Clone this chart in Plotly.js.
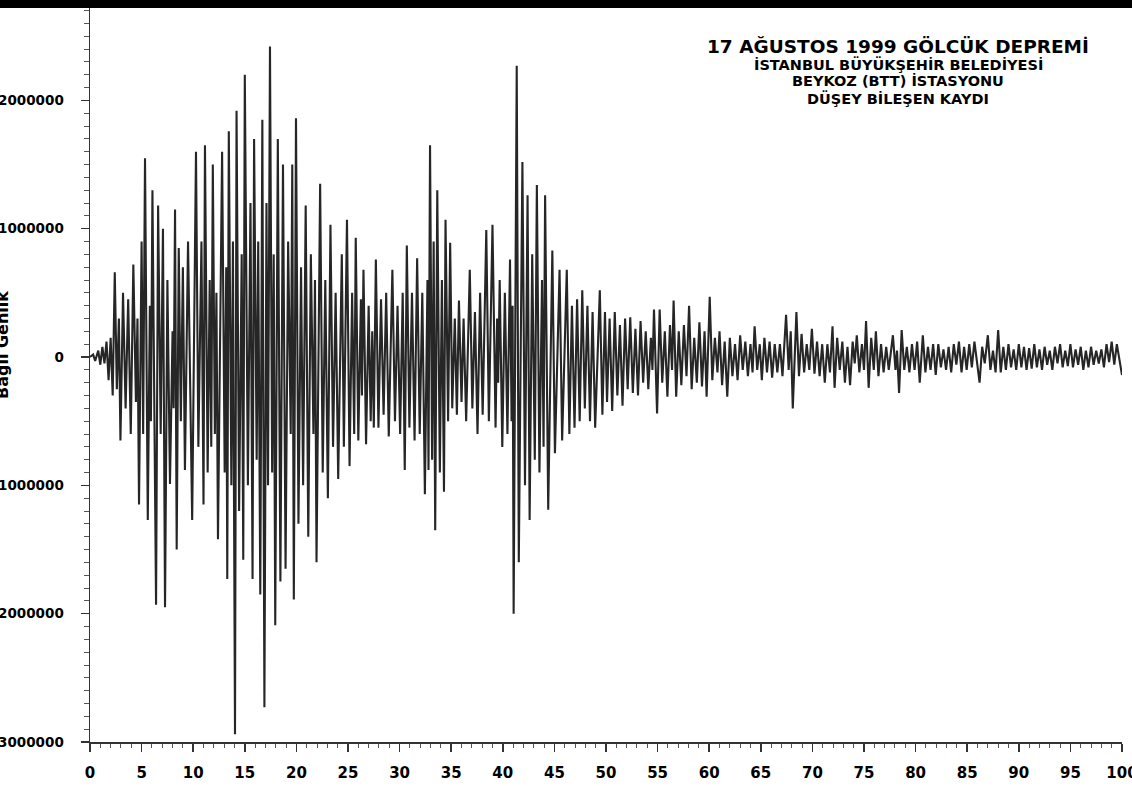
<!DOCTYPE html>
<html>
<head>
<meta charset="utf-8">
<script src="https://cdn.plot.ly/plotly-3.0.1.min.js"></script>
<style>
  html, body { margin: 0; padding: 0; background: #fff; overflow: hidden; width: 1132px; height: 786px; }
  #chart { position: absolute; left: -14px; top: 0; width: 1146px; height: 786px; }
</style>
</head>
<body>
<div id="chart"></div>
<script>
// Time (s)
const time = [
  0.0, 0.3, 0.5, 0.8, 1.0, 1.2, 1.4, 1.6, 1.8, 2.0,
  2.2, 2.4, 2.6, 2.8, 2.95, 3.2, 3.45, 3.7, 3.95, 4.2,
  4.45, 4.6, 4.75, 5.0, 5.15, 5.33, 5.6, 5.8, 5.9, 6.05,
  6.4, 6.6, 6.85, 7.07, 7.27, 7.5, 7.75, 8.0, 8.1, 8.24,
  8.4, 8.6, 8.8, 9.0, 9.2, 9.5, 9.9, 10.27, 10.5, 10.8,
  11.0, 11.14, 11.4, 11.6, 11.75, 11.9, 12.1, 12.25, 12.4, 12.8,
  13.05, 13.2, 13.3, 13.45, 13.7, 13.85, 14.05, 14.2, 14.45, 14.7,
  14.85, 15.0, 15.3, 15.55, 15.75, 15.9, 16.15, 16.3, 16.5, 16.7,
  16.9, 17.1, 17.25, 17.44, 17.65, 17.8, 17.95, 18.2, 18.45, 18.7,
  18.95, 19.2, 19.45, 19.6, 19.75, 19.96, 20.2, 20.45, 20.65, 20.9,
  21.15, 21.4, 21.65, 21.8, 21.95, 22.3, 22.55, 22.8, 23.05, 23.3,
  23.55, 23.8, 24.05, 24.4, 24.6, 24.9, 25.15, 25.4, 25.6, 25.75,
  26.0, 26.25, 26.35, 26.5, 26.75, 27.0, 27.2, 27.35, 27.5, 27.7,
  27.95, 28.2, 28.45, 28.7, 28.95, 29.3, 29.55, 29.8, 30.05, 30.3,
  30.5, 30.7, 30.95, 31.2, 31.45, 31.7, 31.95, 32.2, 32.45, 32.7,
  32.8, 32.95, 33.15, 33.3, 33.45, 33.65, 33.9, 34.1, 34.3, 34.45,
  34.7, 34.9, 35.1, 35.35, 35.55, 35.75, 36.0, 36.2, 36.45, 36.8,
  37.05, 37.3, 37.55, 37.8, 38.05, 38.4, 38.65, 39.0, 39.3, 39.45,
  39.55, 39.7, 39.95, 40.2, 40.45, 40.7, 40.85, 40.95, 41.05, 41.35,
  41.55, 41.9, 42.15, 42.4, 42.6, 42.85, 43.1, 43.3, 43.55, 43.8,
  43.95, 44.1, 44.4, 44.8, 45.05, 45.5, 45.75, 46.2, 46.45, 46.7,
  46.95, 47.2, 47.45, 47.7, 47.95, 48.2, 48.45, 48.7, 48.95, 49.4,
  49.65, 49.9, 50.1, 50.35, 50.6, 50.85, 51.1, 51.35, 51.6, 51.85,
  52.1, 52.35, 52.6, 52.85, 53.1, 53.35, 53.6, 53.85, 54.1, 54.35,
  54.5, 54.65, 54.95, 55.2, 55.45, 55.7, 55.95, 56.2, 56.4, 56.55,
  56.8, 57.05, 57.3, 57.55, 57.8, 58.05, 58.3, 58.55, 58.8, 59.05,
  59.3, 59.55, 59.75, 60.05, 60.3, 60.55, 60.8, 61.0, 61.25, 61.5,
  61.75, 62.0, 62.25, 62.5, 62.75, 63.0, 63.25, 63.5, 63.75, 64.0,
  64.2, 64.4, 64.65, 64.9, 65.1, 65.35, 65.6, 65.85, 66.1, 66.35,
  66.6, 66.85, 67.1, 67.45, 67.7, 67.9, 68.1, 68.45, 68.7, 68.95,
  69.2, 69.45, 69.7, 69.95, 70.2, 70.45, 70.7, 70.95, 71.2, 71.45,
  71.7, 71.95, 72.15, 72.4, 72.65, 72.9, 73.15, 73.4, 73.65, 73.9,
  74.1, 74.3, 74.55, 74.8, 75.0, 75.2, 75.45, 75.7, 75.95, 76.15,
  76.4, 76.65, 76.9, 77.15, 77.4, 77.8, 78.05, 78.2, 78.4, 78.65,
  78.9, 79.15, 79.4, 79.65, 79.9, 80.15, 80.4, 80.7, 80.95, 81.2,
  81.45, 81.7, 81.95, 82.2, 82.45, 82.7, 82.95, 83.2, 83.45, 83.7,
  83.95, 84.2, 84.45, 84.7, 84.95, 85.2, 85.45, 85.7, 86.2, 86.45,
  86.7, 87.0, 87.25, 87.5, 87.75, 88.0, 88.25, 88.5, 88.75, 89.0,
  89.25, 89.5, 89.75, 90.0, 90.25, 90.5, 90.75, 91.0, 91.25, 91.5,
  91.75, 92.0, 92.25, 92.5, 92.75, 93.0, 93.25, 93.5, 93.75, 94.0,
  94.25, 94.5, 94.75, 95.0, 95.25, 95.5, 95.75, 96.0, 96.25, 96.5,
  96.75, 97.0, 97.25, 97.5, 97.75, 98.0, 98.25, 98.5, 98.75, 99.0,
  99.25, 99.5, 99.75, 100.0
];

// Relative amplitude (counts)
const amplitude = [
  0, 0.02e6, -0.03e6, 0.05e6, -0.06e6, 0.08e6, -0.05e6, 0.12e6, -0.18e6, 0.15e6,
  -0.3e6, 0.66e6, -0.25e6, 0.3e6, -0.65e6, 0.5e6, -0.4e6, 0.45e6, -0.6e6, 0.72e6,
  -0.35e6, 0.3e6, -1.15e6, 0.9e6, -0.6e6, 1.55e6, -1.27e6, 0.4e6, -0.5e6, 1.3e6,
  -1.93e6, 1.18e6, -0.6e6, 1.0e6, -1.95e6, 0.6e6, -0.99e6, 0.2e6, -0.4e6, 1.15e6,
  -1.5e6, 0.85e6, -0.5e6, 0.7e6, -0.88e6, 0.9e6, -1.27e6, 1.6e6, -0.7e6, 0.9e6,
  -1.15e6, 1.65e6, -0.9e6, 0.6e6, -0.7e6, 1.5e6, -0.6e6, 0.5e6, -1.42e6, 1.6e6,
  -0.9e6, 0.7e6, -1.73e6, 1.76e6, -1.0e6, 0.9e6, -2.94e6, 1.92e6, -1.2e6, 0.8e6,
  -1.58e6, 2.2e6, -1.0e6, 1.2e6, -1.73e6, 1.7e6, -0.8e6, 0.9e6, -1.85e6, 1.85e6,
  -2.73e6, 1.2e6, -1.0e6, 2.42e6, -0.9e6, 0.8e6, -2.09e6, 1.7e6, -1.75e6, 1.5e6,
  -1.65e6, 0.9e6, -0.6e6, 1.5e6, -1.89e6, 1.86e6, -1.3e6, 0.7e6, -1.0e6, 1.18e6,
  -1.4e6, 0.8e6, -0.6e6, 0.6e6, -1.6e6, 1.35e6, -0.9e6, 0.6e6, -1.1e6, 1.03e6,
  -0.7e6, 0.5e6, -0.95e6, 0.8e6, -0.7e6, 1.07e6, -0.85e6, 0.5e6, -0.6e6, 0.93e6,
  -0.65e6, 0.45e6, -0.3e6, 0.68e6, -0.68e6, 0.4e6, -0.5e6, 0.2e6, -0.55e6, 0.76e6,
  -0.55e6, 0.45e6, -0.45e6, 0.5e6, -0.62e6, 0.68e6, -0.5e6, 0.4e6, -0.6e6, 0.5e6,
  -0.88e6, 0.87e6, -0.55e6, 0.5e6, -0.65e6, 0.77e6, -0.6e6, 0.5e6, -1.07e6, 0.6e6,
  -0.88e6, 1.65e6, -0.8e6, 0.9e6, -1.35e6, 1.3e6, -0.9e6, 0.6e6, -1.05e6, 1.07e6,
  -0.5e6, 0.89e6, -0.4e6, 0.3e6, -0.45e6, 0.44e6, -0.35e6, 0.3e6, -0.5e6, 0.68e6,
  -0.4e6, 0.35e6, -0.6e6, 0.5e6, -0.45e6, 0.99e6, -0.5e6, 1.03e6, -0.55e6, 0.3e6,
  -0.2e6, 0.6e6, -0.7e6, 0.5e6, -0.6e6, 0.76e6, -0.5e6, 0.4e6, -2.0e6, 2.27e6,
  -1.6e6, 1.52e6, -1.0e6, 1.26e6, -1.27e6, 0.8e6, -0.8e6, 1.34e6, -0.9e6, 0.6e6,
  -0.7e6, 1.26e6, -1.19e6, 0.83e6, -0.75e6, 0.68e6, -0.65e6, 0.68e6, -0.6e6, 0.4e6,
  -0.55e6, 0.45e6, -0.5e6, 0.52e6, -0.4e6, 0.4e6, -0.5e6, 0.35e6, -0.55e6, 0.52e6,
  -0.45e6, 0.35e6, -0.35e6, 0.3e6, -0.42e6, 0.35e6, -0.3e6, 0.25e6, -0.38e6, 0.3e6,
  -0.25e6, 0.31e6, -0.28e6, 0.22e6, -0.3e6, 0.28e6, -0.2e6, 0.2e6, -0.25e6, 0.15e6,
  -0.1e6, 0.37e6, -0.44e6, 0.37e6, -0.2e6, 0.2e6, -0.31e6, 0.25e6, -0.1e6, 0.44e6,
  -0.31e6, 0.2e6, -0.22e6, 0.25e6, -0.15e6, 0.4e6, -0.25e6, 0.15e6, -0.2e6, 0.27e6,
  -0.23e6, 0.2e6, -0.31e6, 0.47e6, -0.18e6, 0.15e6, -0.12e6, 0.2e6, -0.22e6, 0.12e6,
  -0.31e6, 0.15e6, -0.15e6, 0.1e6, -0.18e6, 0.17e6, -0.1e6, 0.12e6, -0.15e6, 0.1e6,
  -0.12e6, 0.24e6, -0.1e6, 0.1e6, -0.18e6, 0.15e6, -0.12e6, 0.12e6, -0.16e6, 0.1e6,
  -0.12e6, 0.1e6, -0.15e6, 0.33e6, -0.1e6, 0.2e6, -0.4e6, 0.35e6, -0.15e6, 0.18e6,
  -0.12e6, 0.1e6, -0.1e6, 0.22e6, -0.13e6, 0.12e6, -0.15e6, 0.1e6, -0.2e6, 0.1e6,
  -0.12e6, 0.24e6, -0.24e6, 0.15e6, -0.1e6, 0.12e6, -0.2e6, 0.08e6, -0.22e6, 0.12e6,
  -0.05e6, 0.17e6, -0.12e6, 0.1e6, -0.1e6, 0.28e6, -0.24e6, 0.15e6, -0.1e6, 0.2e6,
  -0.15e6, 0.1e6, -0.12e6, 0.08e6, -0.1e6, 0.17e6, -0.1e6, 0.05e6, -0.28e6, 0.21e6,
  -0.1e6, 0.08e6, -0.12e6, 0.1e6, -0.1e6, 0.12e6, -0.2e6, 0.17e6, -0.12e6, 0.08e6,
  -0.1e6, 0.1e6, -0.14e6, 0.1e6, -0.08e6, 0.06e6, -0.1e6, 0.08e6, -0.12e6, 0.1e6,
  -0.06e6, 0.12e6, -0.12e6, 0.08e6, -0.1e6, 0.1e6, -0.08e6, 0.12e6, -0.2e6, 0.08e6,
  -0.05e6, 0.17e6, -0.1e6, 0.05e6, -0.12e6, 0.21e6, -0.12e6, 0.08e6, -0.1e6, 0.1e6,
  -0.08e6, 0.06e6, -0.1e6, 0.1e6, -0.08e6, 0.08e6, -0.1e6, 0.07e6, -0.09e6, 0.1e6,
  -0.08e6, 0.06e6, -0.1e6, 0.08e6, -0.06e6, 0.05e6, -0.1e6, 0.08e6, -0.05e6, 0.1e6,
  -0.08e6, 0.05e6, -0.07e6, 0.1e6, -0.08e6, 0.06e6, -0.06e6, 0.08e6, -0.1e6, 0.05e6,
  -0.08e6, 0.08e6, -0.06e6, 0.05e6, -0.05e6, 0.06e6, -0.08e6, 0.1e6, -0.04e6, 0.12e6,
  -0.06e6, 0.1e6, -0.02e6, -0.14e6
];

const yTickValues = [-3000000, -2000000, -1000000, 0, 1000000, 2000000];
const yTickLabels = ['-3000000', '-2000000', '-1000000', '0', '1000000', '2000000'];
const xTickValues = [0, 5, 10, 15, 20, 25, 30, 35, 40, 45, 50, 55, 60, 65, 70, 75, 80, 85, 90, 95, 100];

const titleLines = [
  '17 AĞUSTOS 1999 GÖLCÜK DEPREMİ',
  'İSTANBUL BÜYÜKŞEHİR BELEDİYESİ',
  'BEYKOZ (BTT) İSTASYONU',
  'DÜŞEY BİLEŞEN KAYDI'
];
const yTitle = 'Bağıl Genlik';

const FONT = 'DejaVu Sans, Liberation Sans, Arial, sans-serif';
const W = 1146, H = 786;
const mL = 104, mR = 10, mT = 8, mB = 44;
const plotW = W - mL - mR, plotH = H - mT - mB;

const trace = {
  type: 'scatter', mode: 'lines',
  x: time, y: amplitude,
  line: { color: '#262626', width: 2.1 },
  hoverinfo: 'x+y', showlegend: false
};

const titleYs = [1 - (47 - mT) / plotH, 1 - (64 - mT) / plotH, 1 - (81 - mT) / plotH, 1 - (98 - mT) / plotH];
const titleX = (898 + 14 - mL) / plotW;

const annotations = titleLines.map((t, i) => ({
  text: '<b>' + t + '</b>', xref: 'paper', yref: 'paper',
  x: titleX, y: titleYs[i], xanchor: 'center', yanchor: 'middle',
  showarrow: false,
  font: { family: FONT, size: i === 0 ? 18.5 : 14.5, color: '#000' }
}));
annotations.push({
  text: '<b>' + yTitle + '</b>', xref: 'paper', yref: 'paper',
  x: (3 + 14 - mL) / plotW, y: (742 - 345) / plotH,
  xanchor: 'center', yanchor: 'middle', textangle: -90, showarrow: false,
  font: { family: FONT, size: 16, color: '#000' }
});

const layout = {
  width: W, height: H,
  margin: { l: mL, r: mR, t: mT, b: mB, pad: 0 },
  paper_bgcolor: '#fff', plot_bgcolor: '#fff',
  font: { family: FONT, color: '#000' },
  xaxis: {
    range: [0, 100], showgrid: false, zeroline: false,
    showline: true, linecolor: '#333', linewidth: 1.5,
    ticks: 'outside', ticklen: 8, tickwidth: 1.5, tickcolor: '#333',
    tickmode: 'array', tickvals: xTickValues,
    minor: { dtick: 1, ticks: 'outside', ticklen: 4, tickwidth: 1, tickcolor: '#555' },
    tickfont: { family: FONT, size: 15, color: '#000', weight: 'bold' },
    ticklabelstandoff: 8, ticklabeloverflow: 'allow'
  },
  yaxis: {
    range: [-3000000, 2720000], showgrid: false, zeroline: false,
    showline: true, linecolor: '#333', linewidth: 1.5,
    ticks: 'outside', ticklen: 8, tickwidth: 1.5, tickcolor: '#333',
    tickmode: 'array', tickvals: yTickValues, ticktext: yTickLabels,
    minor: { dtick: 100000, tick0: 0, ticks: 'outside', ticklen: 5, tickwidth: 1, tickcolor: '#555' },
    tickfont: { family: FONT, size: 13.5, color: '#000', weight: 'bold' },
    ticklabelstandoff: 14, ticklabeloverflow: 'allow'
  },
  shapes: [{
    type: 'rect', xref: 'paper', yref: 'paper', layer: 'above',
    x0: -mL / plotW, x1: 1 + mR / plotW,
    y0: 1, y1: 1 + mT / plotH,
    fillcolor: '#000', line: { width: 0 }
  }],
  annotations: annotations
};

Plotly.newPlot('chart', [trace], layout, { displayModeBar: false, staticPlot: true });
</script>
</body>
</html>
